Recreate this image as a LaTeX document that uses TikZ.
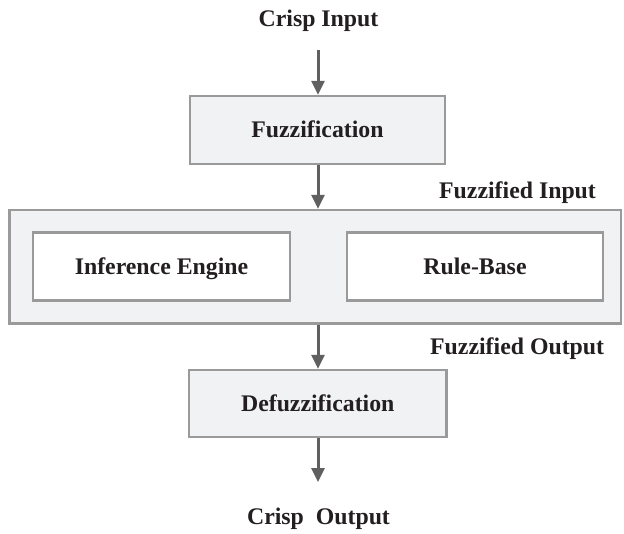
\documentclass[tikz,border=0pt]{standalone}
\usepackage{fontspec}
\setmainfont{Liberation Serif}
\usetikzlibrary{arrows.meta}
\definecolor{boxfill}{HTML}{F1F2F4}
\definecolor{boxline}{HTML}{9A9A9A}
\definecolor{arrline}{HTML}{606060}
\definecolor{txt}{HTML}{231F20}
\tikzset{
  lbl/.style={font=\fontsize{23.8pt}{26pt}\selectfont\bfseries, text=txt, inner sep=0pt},
  blk/.style={draw=boxline, line width=2.5pt, fill=boxfill, inner sep=0pt,
              font=\fontsize{23.8pt}{26pt}\selectfont\bfseries, text=txt,
              text height=15.6pt, text depth=0pt},
  wblk/.style={blk, fill=white},
  arr/.style={draw=arrline, line width=3pt, -{Triangle[length=14pt,width=13pt]}},
}
\begin{document}
\begin{tikzpicture}[x=1pt,y=-1pt]
\useasboundingbox (0,0) rectangle (624,533);
% text labels
\node[lbl, anchor=base] (cin) at (318.5,26) {Crisp Input};
\node[lbl, anchor=base west] (fin) at (439,198.5) {Fuzzified Input};
\node[lbl, anchor=base west] (fout) at (430,354.5) {Fuzzified Output};
\node[lbl, anchor=base] (cout) at (318.5,524) {Crisp\ \ Output};
% boxes
\node[blk, minimum width=255pt, minimum height=68pt] (fuzz) at (317.5,130) {Fuzzification};
\node[blk, minimum width=611.5pt, minimum height=113.5pt] (outer) at (315.25,266.75) {};
\node[wblk, minimum width=257pt, minimum height=68pt] (inf) at (161.5,266.5) {Inference Engine};
\node[wblk, minimum width=256pt, minimum height=68pt] (rule) at (475,266.5) {Rule-Base};
\node[blk, minimum width=257.5pt, minimum height=67pt] (defuzz) at (317.75,403.5) {Defuzzification};
% connectors
\coordinate (a1) at (318,50);
\coordinate (a4) at (318,482);
\draw[arr] (a1) -- (a1 |- fuzz.north);
\draw[arr] (a1 |- fuzz.south) -- (a1 |- outer.north);
\draw[arr] (a1 |- outer.south) -- (a1 |- defuzz.north);
\draw[arr] (a1 |- defuzz.south) -- (a4);
\end{tikzpicture}
\end{document}
